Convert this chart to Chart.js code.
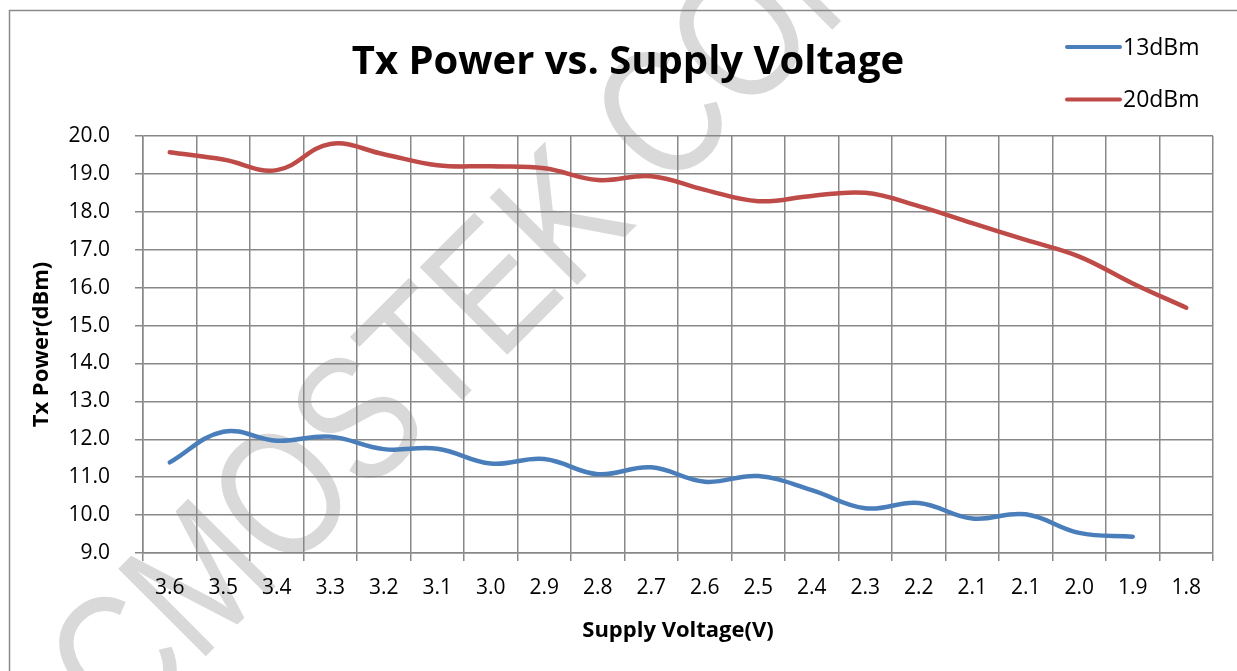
<!DOCTYPE html>
<html>
<head>
<meta charset="utf-8">
<script src="https://cdn.jsdelivr.net/npm/chart.js@4.4.1/dist/chart.umd.min.js"></script>
<style>
html,body{margin:0;padding:0;background:#fff;}
#wrap{position:relative;width:1237px;height:671px;}
</style>
</head>
<body>
<div id="wrap"><canvas id="c" width="1237" height="671"></canvas></div>
<script>
const categories = ['3.6','3.5','3.4','3.3','3.2','3.1','3.0','2.9','2.8','2.7','2.6','2.5','2.4','2.3','2.2','2.1','2.1','2.0','1.9','1.8'];
const series13dBm = [11.39,12.20,11.96,12.07,11.74,11.75,11.36,11.48,11.08,11.26,10.88,11.03,10.66,10.18,10.32,9.91,10.02,9.53,9.43,null];
const series20dBm = [19.57,19.38,19.10,19.79,19.52,19.23,19.20,19.15,18.84,18.94,18.58,18.28,18.42,18.50,18.15,17.70,17.26,16.82,16.11,15.47];
const seriesLabels = ['13dBm','20dBm'];
const titleText = 'Tx Power vs. Supply Voltage';
const xTitle = 'Supply Voltage(V)';
const yTitle = 'Tx Power(dBm)';
const watermarkText = 'CMOSTEK CONFIDENTIAL';

const FONT = "'Open Sans', sans-serif";
const GRID = '#888888';

const backgroundPlugin = {
  id: 'bg',
  beforeDraw(chart) {
    const ctx = chart.ctx;
    ctx.save();
    ctx.fillStyle = '#fff';
    ctx.fillRect(0, 0, chart.width, chart.height);
    // watermark
    ctx.translate(122, 740);
    ctx.rotate(-45 * Math.PI / 180);
    ctx.scale(0.82, 1);
    ctx.fillStyle = '#d9d9d9';
    ctx.font = "180px 'Liberation Sans', sans-serif";
    ctx.textBaseline = 'alphabetic';
    ctx.fillText(watermarkText, 0, 0);
    ctx.restore();
    ctx.save();
    ctx.strokeStyle = '#8a8a8a';
    ctx.lineWidth = 1.5;
    ctx.strokeRect(9.5, 10.5, 1400, 1000);
    ctx.restore();
  }
};

const titleLegendPlugin = {
  id: 'titleLegend',
  afterDraw(chart) {
    const ctx = chart.ctx;
    ctx.save();
    ctx.fillStyle = '#000';
    ctx.font = "bold 40px " + FONT;
    ctx.textAlign = 'center';
    ctx.textBaseline = 'middle';
    ctx.fillText(titleText, 628, 63);
    const ys = [47, 99.5];
    chart.data.datasets.forEach((ds, i) => {
      ctx.strokeStyle = ds.borderColor;
      ctx.lineWidth = 4;
      ctx.lineCap = 'round';
      ctx.beginPath();
      ctx.moveTo(1067, ys[i]);
      ctx.lineTo(1120, ys[i]);
      ctx.stroke();
      ctx.fillStyle = '#000';
      ctx.font = "23px " + FONT;
      ctx.textBaseline = 'middle';
      ctx.textAlign = 'left';
      ctx.fillText(ds.label, 1123, ys[i] + 1);
    });
    ctx.restore();
  }
};

new Chart(document.getElementById('c'), {
  type: 'line',
  data: {
    labels: categories,
    datasets: [
      { label: seriesLabels[0], data: series13dBm, borderColor: '#4a7ebb', backgroundColor: '#4a7ebb', borderWidth: 4.5, tension: 0.4, pointRadius: 0, borderCapStyle: 'round', fill: false, spanGaps: false },
      { label: seriesLabels[1], data: series20dBm, borderColor: '#be4b48', backgroundColor: '#be4b48', borderWidth: 4.5, tension: 0.4, pointRadius: 0, borderCapStyle: 'round', fill: false }
    ]
  },
  options: {
    responsive: false,
    animation: false,
    devicePixelRatio: 1,
    layout: { padding: { left: 0, right: 24, top: 136, bottom: 0 } },
    plugins: {
      legend: { display: false },
      tooltip: { enabled: false },
      title: { display: false }
    },
    scales: {
      x: {
        offset: true,
        grid: { display: true, offset: true, color: GRID, lineWidth: 1.5, tickLength: 8, drawTicks: true },
        border: { display: true, color: GRID, width: 1.5 },
        ticks: { color: '#000', font: { family: FONT, size: 21 }, autoSkip: false, maxRotation: 0, padding: 14 },
        title: { display: true, text: xTitle, color: '#000', font: { family: FONT, size: 22, weight: 'bold', lineHeight: 1.2 }, padding: { top: 0, bottom: 27 } },
        afterFit(scale) { scale.height = 118; }
      },
      y: {
        min: 9, max: 20,
        grid: { display: true, color: GRID, lineWidth: 1.5, tickLength: 8, drawTicks: true },
        border: { display: true, color: GRID, width: 1.5 },
        ticks: { stepSize: 1, color: '#000', font: { family: FONT, size: 21 }, padding: 25, callback: v => Number(v).toFixed(1) },
        title: { display: true, text: yTitle, color: '#000', font: { family: FONT, size: 22, weight: 'bold', lineHeight: 1.2 }, padding: { top: 29, bottom: 0 } },
        afterFit(scale) { scale.width = 143; }
      }
    }
  },
  plugins: [backgroundPlugin, titleLegendPlugin]
});
</script>
</body>
</html>
